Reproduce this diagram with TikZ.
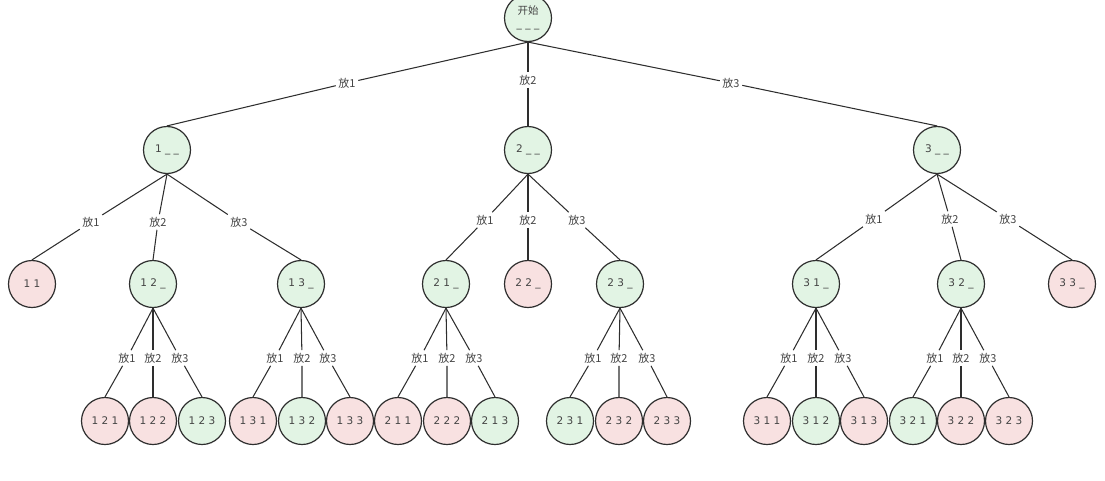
\documentclass[tikz,border=0pt]{standalone}
\usepackage{fontspec}
\setmainfont{DejaVu Sans}
\newfontfamily\cjk{Noto Sans CJK SC}
\definecolor{okc}{HTML}{E2F4E4}
\definecolor{badc}{HTML}{F8E1E1}
\definecolor{ink}{HTML}{2E2E2E}
\definecolor{txt}{HTML}{444444}
\begin{document}
\begin{tikzpicture}[x=1pt,y=-1pt,
  st/.style={circle, draw=ink, line width=1.2pt, minimum size=47pt, inner sep=0pt,
    font=\fontsize{10.5}{12}\selectfont, text=txt},
  ok/.style={st, fill=okc},
  bad/.style={st, fill=badc},
  lbl/.style={inner sep=2.5pt, font=\cjk\fontsize{11}{12}\selectfont, text=txt},
  edge/.style={draw=ink, line width=1.05pt}]
\useasboundingbox (0,0) rectangle (1105,480);
% nodes
\node[ok, align=center] (root) at (528,18) {{\cjk 开始}\\[1pt]\_\,\,\_\,\,\_};
\node[ok] (a1) at (167,150) {1 \_ \_};
\node[ok] (a2) at (528,150) {2 \_ \_};
\node[ok] (a3) at (937,150) {3 \_ \_};
\node[bad] (b11) at (32,284) {1 1};
\node[ok]  (b12) at (153,284) {1 2 \_};
\node[ok]  (b13) at (301,284) {1 3 \_};
\node[ok]  (b21) at (446,284) {2 1 \_};
\node[bad] (b22) at (528,284) {2 2 \_};
\node[ok]  (b23) at (620,284) {2 3 \_};
\node[ok]  (b31) at (816,284) {3 1 \_};
\node[ok]  (b32) at (961,284) {3 2 \_};
\node[bad] (b33) at (1072,284) {3 3 \_};
\node[bad] (c121) at (105,421) {1 2 1};
\node[bad] (c122) at (153,421) {1 2 2};
\node[ok]  (c123) at (202,421) {1 2 3};
\node[bad] (c131) at (253,421) {1 3 1};
\node[ok]  (c132) at (302,421) {1 3 2};
\node[bad] (c133) at (350,421) {1 3 3};
\node[bad] (c211) at (398,421) {2 1 1};
\node[bad] (c222) at (447,421) {2 2 2};
\node[ok]  (c213) at (495,421) {2 1 3};
\node[ok]  (c231) at (570,421) {2 3 1};
\node[bad] (c232) at (619,421) {2 3 2};
\node[bad] (c233) at (667,421) {2 3 3};
\node[bad] (c311) at (767,421) {3 1 1};
\node[ok]  (c312) at (816,421) {3 1 2};
\node[bad] (c313) at (864,421) {3 1 3};
\node[ok]  (c321) at (913,421) {3 2 1};
\node[bad] (c322) at (961,421) {3 2 2};
\node[bad] (c323) at (1009,421) {3 2 3};
% labels
\node[lbl] (l1) at (347,83) {放1};
\node[lbl] (l2) at (528,80) {放2};
\node[lbl] (l3) at (731,83) {放3};
\node[lbl] (l11) at (91,222) {放1};
\node[lbl] (l12) at (158,222) {放2};
\node[lbl] (l13) at (239,222) {放3};
\node[lbl] (l21) at (485,220) {放1};
\node[lbl] (l22) at (528,220) {放2};
\node[lbl] (l23) at (577,220) {放3};
\node[lbl] (l31) at (874,219) {放1};
\node[lbl] (l32) at (950,219) {放2};
\node[lbl] (l33) at (1008,219) {放3};
\node[lbl] (l121) at (127,358) {放1};
\node[lbl] (l122) at (153,358) {放2};
\node[lbl] (l123) at (180,358) {放3};
\node[lbl] (l131) at (275,358) {放1};
\node[lbl] (l132) at (302,358) {放2};
\node[lbl] (l133) at (328,358) {放3};
\node[lbl] (l211) at (420,358) {放1};
\node[lbl] (l212) at (447,358) {放2};
\node[lbl] (l213) at (474,358) {放3};
\node[lbl] (l231) at (593,358) {放1};
\node[lbl] (l232) at (619,358) {放2};
\node[lbl] (l233) at (647,358) {放3};
\node[lbl] (l311) at (789,358) {放1};
\node[lbl] (l312) at (816,358) {放2};
\node[lbl] (l313) at (843,358) {放3};
\node[lbl] (l321) at (935,358) {放1};
\node[lbl] (l322) at (961,358) {放2};
\node[lbl] (l323) at (988,358) {放3};
% edges
\draw[edge] (root.south) -- (l1) -- (a1.north);
\draw[edge] (root.south) -- (l2) -- (a2.north);
\draw[edge] (root.south) -- (l3) -- (a3.north);
\draw[edge] (a1.south) -- (l11) -- (b11.north);
\draw[edge] (a1.south) -- (l12) -- (b12.north);
\draw[edge] (a1.south) -- (l13) -- (b13.north);
\draw[edge] (a2.south) -- (l21) -- (b21.north);
\draw[edge] (a2.south) -- (l22) -- (b22.north);
\draw[edge] (a2.south) -- (l23) -- (b23.north);
\draw[edge] (a3.south) -- (l31) -- (b31.north);
\draw[edge] (a3.south) -- (l32) -- (b32.north);
\draw[edge] (a3.south) -- (l33) -- (b33.north);
\draw[edge] (b12.south) -- (l121) -- (c121.north);
\draw[edge] (b12.south) -- (l122) -- (c122.north);
\draw[edge] (b12.south) -- (l123) -- (c123.north);
\draw[edge] (b13.south) -- (l131) -- (c131.north);
\draw[edge] (b13.south) -- (l132) -- (c132.north);
\draw[edge] (b13.south) -- (l133) -- (c133.north);
\draw[edge] (b21.south) -- (l211) -- (c211.north);
\draw[edge] (b21.south) -- (l212) -- (c222.north);
\draw[edge] (b21.south) -- (l213) -- (c213.north);
\draw[edge] (b23.south) -- (l231) -- (c231.north);
\draw[edge] (b23.south) -- (l232) -- (c232.north);
\draw[edge] (b23.south) -- (l233) -- (c233.north);
\draw[edge] (b31.south) -- (l311) -- (c311.north);
\draw[edge] (b31.south) -- (l312) -- (c312.north);
\draw[edge] (b31.south) -- (l313) -- (c313.north);
\draw[edge] (b32.south) -- (l321) -- (c321.north);
\draw[edge] (b32.south) -- (l322) -- (c322.north);
\draw[edge] (b32.south) -- (l323) -- (c323.north);
\end{tikzpicture}
\end{document}
